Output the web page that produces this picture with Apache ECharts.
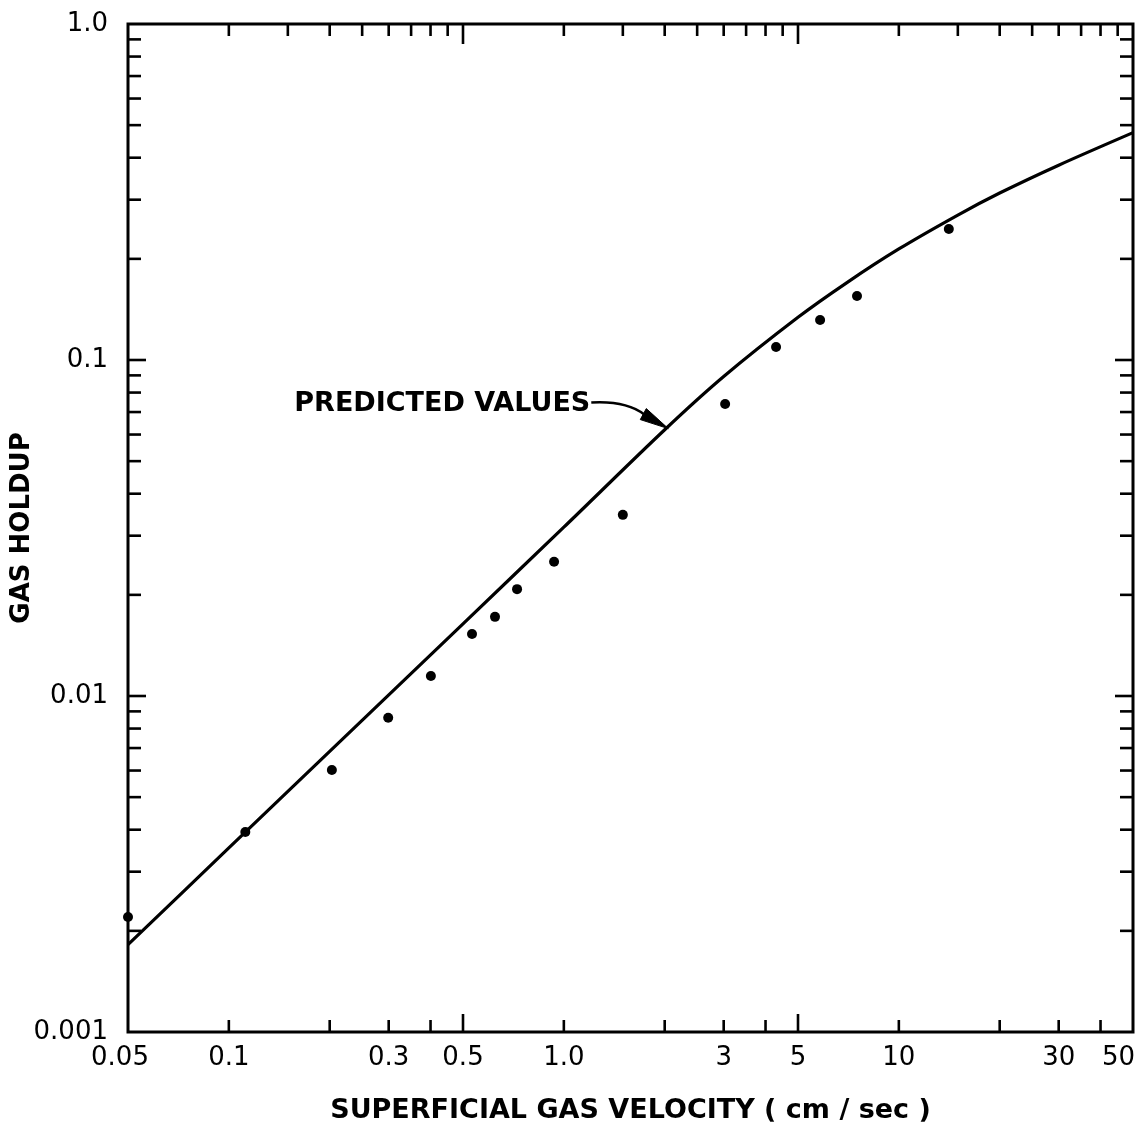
<!DOCTYPE html>
<html>
<head>
<meta charset="utf-8">
<title>Gas holdup vs superficial gas velocity</title>
<script src="https://cdn.jsdelivr.net/npm/echarts@6/dist/echarts.min.js"></script>
<style>
  html, body { margin: 0; padding: 0; background: #fff; }
  #chart { width: 1141px; height: 1129px; }
</style>
</head>
<body>
<div id="chart"></div>
<script>
// Measured gas holdup against superficial gas velocity (cm/sec)
const measuredVelocity = [0.05, 0.112, 0.203, 0.299, 0.401, 0.532, 0.623, 0.725, 0.935, 1.50, 3.03, 4.30, 5.82, 7.5, 14.1];
const measuredHoldup   = [0.0022, 0.00394, 0.00602, 0.00861, 0.01147, 0.0153, 0.0172, 0.0208, 0.0251, 0.0346, 0.0740, 0.1093, 0.1315, 0.155, 0.2454];

// Predicted holdup curve
const predictedVelocity = [0.05, 0.1, 0.2, 0.5, 1, 2, 3, 5, 7, 10, 15, 20, 30, 50];
const predictedHoldup   = [0.00182, 0.00353, 0.00684, 0.0164, 0.0318, 0.062, 0.0893, 0.134, 0.170, 0.214, 0.270, 0.314, 0.380, 0.475];

// Axis ranges
const xRange = [0.05, 50];
const yRange = [0.001, 1];

// Tick labels
const xLabelValues = [0.05, 0.1, 0.3, 0.5, 1, 3, 5, 10, 30, 50];
const xLabelTexts  = ['0.05', '0.1', '0.3', '0.5', '1.0', '3', '5', '10', '30', '50'];
const yLabelValues = [0.001, 0.01, 0.1, 1];
const yLabelTexts  = ['0.001', '0.01', '0.1', '1.0'];

// Tick marks on each side of the frame
const bottomMinorTicks = [0.1, 0.2, 0.3, 0.4, 1, 2, 3, 4, 10, 20, 30, 40];
const bottomMajorTicks = [0.5, 5];
const topMinorTicks = [0.1, 0.15, 0.2, 0.25, 0.3, 0.35, 0.4, 0.45, 1, 1.5, 2, 2.5, 3, 3.5, 4, 4.5, 10, 15, 20, 25, 30, 35, 40, 45];
const topMajorTicks = [0.5, 5];
const yMinorTicks = [0.002, 0.003, 0.004, 0.005, 0.006, 0.007, 0.008, 0.009,
                     0.02, 0.03, 0.04, 0.05, 0.06, 0.07, 0.08, 0.09,
                     0.2, 0.3, 0.4, 0.5, 0.6, 0.7, 0.8, 0.9];
const yMajorTicks = [0.01, 0.1];

// Annotation pointing at the predicted curve
const annotationText = 'PREDICTED VALUES';
const annotationTarget = [2.05, 0.0625];

const FONT = '"DejaVu Sans", "Liberation Sans", sans-serif';
const INK = '#000';

// Build tick items: [x, y, orientation (0 = on x edge, 1 = on y edge), size class]
const tickData = [];
bottomMinorTicks.forEach(v => tickData.push([v, yRange[0], 0, 0]));
bottomMajorTicks.forEach(v => tickData.push([v, yRange[0], 0, 1]));
topMinorTicks.forEach(v => tickData.push([v, yRange[1], 0, 0]));
topMajorTicks.forEach(v => tickData.push([v, yRange[1], 0, 2]));
yMinorTicks.forEach(v => { tickData.push([xRange[0], v, 1, 0]); tickData.push([xRange[1], v, 1, 0]); });
yMajorTicks.forEach(v => { tickData.push([xRange[0], v, 1, 1]); tickData.push([xRange[1], v, 1, 1]); });

const labelData = [];
xLabelValues.forEach((v, i) => labelData.push([v, yRange[0], 0, i]));
yLabelValues.forEach((v, i) => labelData.push([xRange[0], v, 1, i]));

const chart = echarts.init(document.getElementById('chart'), null, { renderer: 'canvas' });

const tickLength = { x: [12, 18, 20], y: [13, 18] };
const LABEL_FONT = '26px ' + FONT;

chart.setOption({
  animation: false,
  backgroundColor: '#fff',
  grid: {
    left: 128, top: 24, width: 1005, height: 1008,
    show: true, borderColor: INK, borderWidth: 3, backgroundColor: 'transparent'
  },
  xAxis: {
    type: 'log', logBase: 10, min: xRange[0], max: xRange[1],
    axisLine: { show: false }, axisTick: { show: false },
    axisLabel: { show: false }, splitLine: { show: false },
    name: 'SUPERFICIAL GAS VELOCITY ( cm / sec )',
    nameLocation: 'middle', nameGap: 65,
    nameTextStyle: { fontFamily: FONT, fontSize: 27, fontWeight: 'bold', color: INK }
  },
  yAxis: {
    type: 'log', logBase: 10, min: yRange[0], max: yRange[1],
    axisLine: { show: false }, axisTick: { show: false },
    axisLabel: { show: false }, splitLine: { show: false },
    name: 'GAS HOLDUP',
    nameLocation: 'middle', nameGap: 93,
    nameTextStyle: { fontFamily: FONT, fontSize: 26, fontWeight: 'bold', color: INK }
  },
  series: [
    {
      name: 'Predicted',
      type: 'line',
      data: predictedVelocity.map((x, i) => [x, predictedHoldup[i]]),
      smooth: 0.3,
      showSymbol: false,
      lineStyle: { color: INK, width: 3.2 },
      z: 3
    },
    {
      name: 'Measured',
      type: 'scatter',
      data: measuredVelocity.map((x, i) => [x, measuredHoldup[i]]),
      symbol: 'circle',
      symbolSize: 10,
      itemStyle: { color: INK, opacity: 1 },
      clip: false,
      z: 4
    },
    {
      name: 'ticks',
      type: 'custom',
      data: tickData,
      clip: false,
      silent: true,
      renderItem: function (params, api) {
        const x = api.value(0), y = api.value(1);
        const orient = api.value(2), size = api.value(3);
        const p = api.coord([x, y]);
        let x2 = p[0], y2 = p[1];
        if (orient === 0) {
          const len = tickLength.x[size];
          y2 = (y === yRange[0]) ? p[1] - len : p[1] + len;
        } else {
          const len = tickLength.y[size];
          x2 = (x === xRange[0]) ? p[0] + len : p[0] - len;
        }
        return {
          type: 'line',
          shape: { x1: p[0], y1: p[1], x2: x2, y2: y2 },
          style: { stroke: INK, lineWidth: 2.6 }
        };
      },
      z: 5
    },
    {
      name: 'tickLabels',
      type: 'custom',
      data: labelData,
      clip: false,
      silent: true,
      renderItem: function (params, api) {
        const x = api.value(0), y = api.value(1);
        const orient = api.value(2), idx = api.value(3);
        const p = api.coord([x, y]);
        if (orient === 0) {
          const atEnd = x === xRange[1];
          const atStart = x === xRange[0];
          return {
            type: 'text',
            style: {
              text: xLabelTexts[idx],
              x: atEnd ? p[0] + 2 : (atStart ? p[0] - 8 : p[0]),
              y: p[1] + 26,
              align: atEnd ? 'right' : 'center',
              verticalAlign: 'middle',
              font: LABEL_FONT,
              fill: INK
            }
          };
        }
        return {
          type: 'text',
          style: {
            text: yLabelTexts[idx],
            x: p[0] - 20,
            y: p[1],
            align: 'right',
            verticalAlign: 'middle',
            font: LABEL_FONT,
            fill: INK
          }
        };
      },
      z: 5
    }
  ]
});

// Leader arrow and caption for the predicted curve
const tip = chart.convertToPixel({ xAxisIndex: 0, yAxisIndex: 0 }, annotationTarget);
chart.setOption({
  graphic: [
    {
      type: 'text',
      style: {
        text: annotationText,
        x: tip[0] - 78, y: tip[1] - 25,
        align: 'right', verticalAlign: 'middle',
        font: 'bold 27px ' + FONT,
        fill: INK
      }
    },
    {
      type: 'bezierCurve',
      shape: {
        x1: tip[0] - 77, y1: tip[1] - 26,
        cpx1: tip[0] - 42, cpy1: tip[1] - 28,
        x2: tip[0] - 24, y2: tip[1] - 14
      },
      style: { stroke: INK, lineWidth: 2.5, fill: null }
    },
    {
      type: 'polygon',
      shape: { points: [[tip[0], tip[1]], [tip[0] - 28, tip[1] - 9], [tip[0] - 22, tip[1] - 20]] },
      style: { fill: INK, stroke: INK, lineWidth: 1 }
    }
  ]
});
</script>
</body>
</html>
